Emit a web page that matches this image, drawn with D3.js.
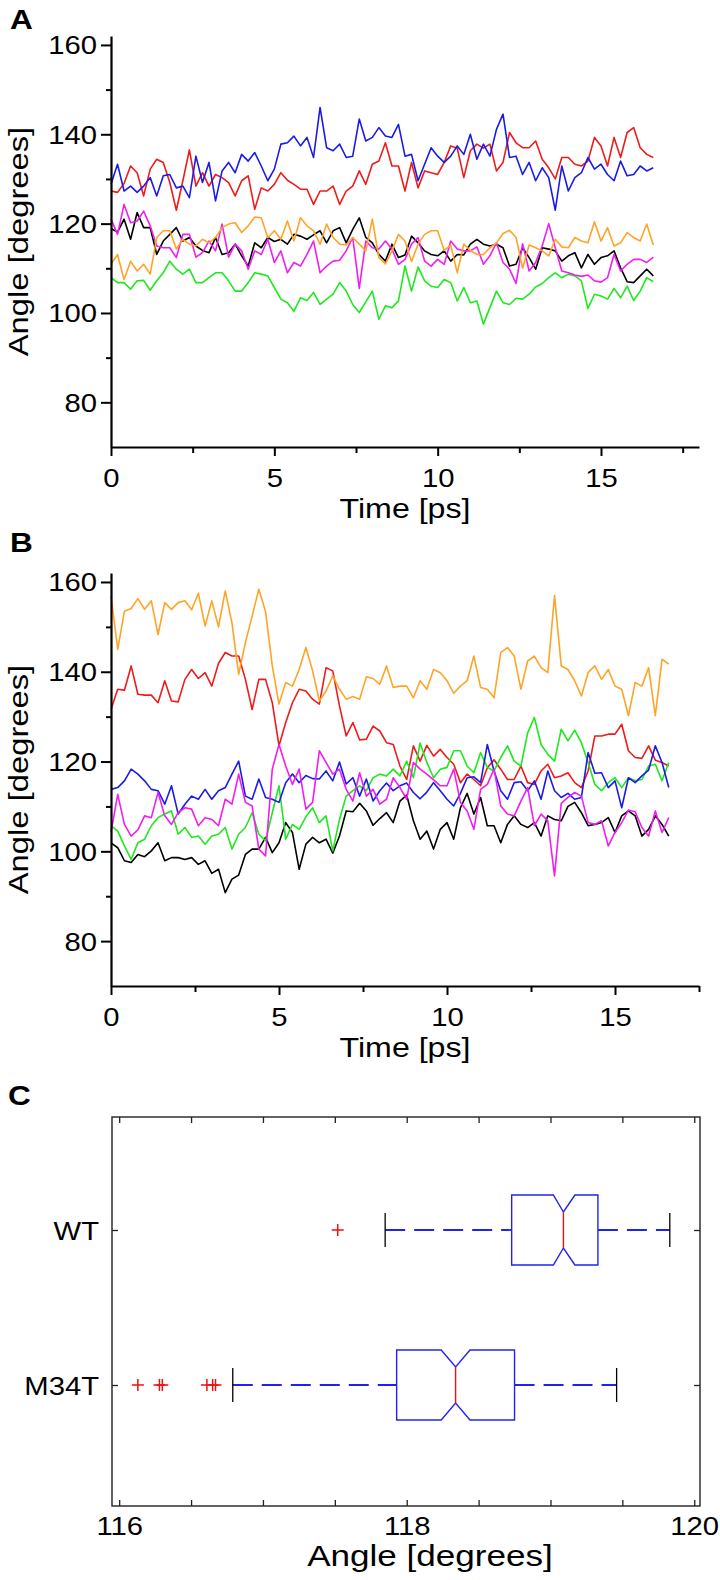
<!DOCTYPE html>
<html><head><meta charset="utf-8">
<script src="https://cdn.jsdelivr.net/npm/d3@7"></script>
<style>
body{margin:0;background:#fff}
svg{display:block}
text{font-family:"Liberation Sans",Arial,Helvetica,sans-serif;fill:#000}
</style>
</head><body>
<svg id="chart" width="720" height="1580"></svg>
<script>
// ---------------- DATA ----------------
const times = [0,0.2,0.4,0.6,0.8,1,1.2,1.4,1.6,1.8,2,2.2,2.4,2.6,2.8,3,3.2,3.4,3.6,3.8,4,4.2,4.4,4.6,4.8,5,5.2,5.4,5.6,5.8,6,6.2,6.4,6.6,6.8,7,7.2,7.4,7.6,7.8,8,8.2,8.4,8.6,8.8,9,9.2,9.4,9.6,9.8,10,10.2,10.4,10.6,10.8,11,11.2,11.4,11.6,11.8,12,12.2,12.4,12.6,12.8,13,13.2,13.4,13.6,13.8,14,14.2,14.4,14.6,14.8,15,15.2,15.4,15.6,15.8,16,16.2,16.4,16.6];

// Panel A series
const aBlack = [118.9,118.1,121,116.5,122.5,119.1,119.1,113.1,116.1,117.6,119.1,116.1,116.9,115,114,113.5,116.9,113.1,113.5,115.4,112.8,110.5,115.7,114.6,116.9,116,116.5,115.4,117.6,117.2,116.5,117.5,118.4,115.7,118.4,119.1,115.7,118.7,121.3,116.9,115.7,113.1,111.6,115.4,112.4,113,117.2,
115.7,113.9,113.1,112.8,113.9,111.6,113.1,113,115.4,116.5,115.4,115,115.4,114.6,110.5,110.9,114.6,112.4,109.8,114.6,114.3,113.9,111.6,112.8,113.5,110.1,113.1,110.9,112.4,112.8,113.9,110.1,107,106.8,108.3,109.8,108.3];
const aRed = [127.3,127,129,132.9,131.4,126.2,132.2,134.4,133.7,129.2,123,129.6,136.5,128.4,131.4,128.4,131,130.3,129.2,126.2,129.6,130.7,123.2,128,127.3,128.8,131.4,129.7,128.8,127.7,127.7,124.3,127.3,127.3,128.4,124.3,127.3,128.4,131.8,128.8,133.3,134,138.1,132.9,132.9,127.3,133.7,
128,131.8,131.4,131,133.7,137.4,136.9,130.3,136.3,137.8,136.9,137.8,131.8,133.7,140.4,138.1,137,137,138.5,134.4,132.5,130,134.8,134.8,133.3,132.9,134,139.3,137.4,132.9,139.3,134.8,140.4,141.5,137,135.5,134.8];
const aGreen = [107.9,106.8,106.8,105.3,107.2,107.3,105.1,107.2,109,111.6,109.8,108.7,109.8,106.8,106.8,107.9,109,109,107.2,104.9,104.9,106.8,109,108.7,108.3,105.7,103.1,102.3,100.4,103.4,102.8,104.6,101.9,103.1,104.2,106.8,104.9,101.9,100.1,102.5,104.9,98.6,101.6,101.2,102.7,110.5,104.9,
110.3,107.2,106,105.7,107.5,106.8,102.7,105.7,102.3,102.7,97.5,101.2,104.9,102.3,101.9,103.3,103.1,104.2,105.8,106.6,107.9,109,107.9,108.7,108.3,107.2,101,104.2,103.8,103.1,105.5,103.4,106,102.8,104.9,107.9,107];
const aBlue = [128.8,133.3,127.3,128.4,127,128.4,130.3,126.2,130.7,131,128,128.4,125.8,135.1,129.2,133.7,125.1,131.8,133.7,131.4,135.5,134,135.9,132.9,129.6,132.2,137.8,138.1,139.6,137.4,139.3,134.8,146,137,136.3,137.8,134.8,135.1,143.4,138.5,139.3,141.5,139.6,139.3,142.2,135.1,135.5,
129.6,133.3,137,135.1,133.7,135.1,137.4,135.5,140,134.4,137.8,135.1,141.1,144.5,134.8,135.1,131,133.7,129.6,132.5,130.3,123,132.9,127.3,130.3,131.4,134.8,132.2,133.3,131,129.6,134,130.7,131,132.9,131.8,132.5];
const aMagenta = [121,117.6,124.3,120.2,120.6,122.8,119.5,115,114.6,114.6,112.4,117.6,117.6,112.5,113.5,116.1,113.9,119.9,112.5,115.4,113.9,109.8,113.9,113.1,116.5,111.3,113.9,109,111.3,110.5,113.1,116.1,109,110.5,111.6,111.8,113.9,116.9,105.5,116.1,114.6,114.3,116.1,114.3,110.9,112,115.4,
116.9,111.6,110.5,112,110.9,116.1,114.3,113.9,113.9,114.8,110.9,112.8,115.7,111.3,109.8,106.6,115.5,109.4,111.3,115,120,114.6,109.4,109,108.5,108.2,108.5,107.2,106.9,107.9,113.1,109.4,110.9,112,112,111.3,112.5];
const aOrange = [110.9,113.1,107.5,111.6,109.4,110.9,108.7,116.9,118.4,118.4,114.3,116.5,115.4,115,116.5,115.7,116.9,119.1,119.9,120.2,118,119.5,121.5,121.3,116.9,118.4,116.5,120.6,116.1,121.3,119.5,118.4,115.4,119.9,116.9,115.4,115.2,116.9,115.4,113.9,121,112.4,111,113.9,117.6,116.1,111.5,
115.4,117.6,118.4,118.4,114,115.2,109,115.4,114,113.1,113.1,114.6,115.7,117.8,118.5,116.9,110,115.2,114.6,113.9,112.8,116.5,114.8,114.6,116.9,116.1,115.7,120.4,116.1,119.1,115,115.7,118,116.9,116.1,119.9,115.2];

// Panel B series
const bBlack = [101.9,100.8,97.9,97.5,99.3,98.8,100.1,101.9,97.9,98.6,98.6,98.2,98.6,97.1,97.9,95.1,96,90.8,93.8,94.7,99.3,100.5,100.5,103.1,99.7,101.9,106.4,104.2,96,101.6,103.1,101.9,102.7,99.6,103.4,109,108.8,110.7,109,105.8,107.3,108.6,106.4,111.2,112.5,106.8,
102.7,104.5,100.5,104.9,106.4,102.7,109.7,112.9,108.3,112,105.7,105.7,101.9,106,107.9,106,105.3,106.4,103.4,107.9,107.1,106.8,110,110.9,108.6,105.7,106,106.4,107.5,104.2,107.9,109,107.9,103.4,104.9,107.9,106,103.4];
const bRed = [131.6,136.1,135.9,141.3,135,134.8,134.8,133.1,138,133.5,133.3,138.3,140.5,138.5,139.8,136.8,141.9,144.3,143.5,143.5,138.3,131.6,138.3,138.3,133.1,123.5,128.7,133.1,136.1,135.7,133.9,132.8,140.9,140.2,132.4,125.7,128.7,124.8,125,127.9,126.8,124.2,123.8,119,116,123.5,
120.1,123.6,121.2,122.7,120.9,119.4,115.3,117.2,116,114.6,118.6,120.4,118.3,116,116,119,115.3,114.9,117.9,119.4,116.4,116.8,117.5,115.3,114.2,117.9,125.7,125.7,126.1,126.1,128.3,122.4,120.9,120.7,123.5,120.3,119.8,119];
const bGreen = [105.7,104.5,101.2,98.2,101.9,102.7,105.7,107.5,108.3,109,103.8,105.3,103.1,103.4,101.6,103.4,103.8,105.3,100.5,103.8,105.3,108.6,103.8,102.3,108.6,114.6,102.7,106,104.9,107.7,109.7,106.4,107.9,100.1,107.1,112.3,113.5,114.6,113.5,116.4,117.2,116.8,118.3,116.8,120.1,116.4,
124.1,119.8,116.4,118.3,118.7,122.4,122.4,119,117.5,122,118.7,117.9,120.9,123.5,120.1,119,126.4,129.8,123.8,121.6,120.1,127.2,124.6,127,124.2,119.8,114.9,113.5,115.3,116.4,114.2,116.4,115.7,116,119,119.4,115.7,119.8];
const bBlue = [113.8,114.2,115.7,118.3,117.2,115.7,113.8,113.5,110.5,114.6,108.3,110.5,112.3,111.6,113.8,111.6,113.5,114.2,117.2,120.1,112.3,111.6,116.1,112,111.6,110.9,115.3,117.2,115.3,116.9,116.2,116.1,117.9,115.7,119.9,115,116.4,112.3,116.1,111.2,113.5,115.2,113.5,114.6,115.2,113.1,
111.7,113.2,115.3,113.5,111.6,110.1,112.9,116.4,116.6,115.3,123.8,117.9,113.5,111.6,115.3,115.5,113.5,115.7,111.6,117.9,113.5,112,112.9,111.6,112,122,117.4,117.5,114.2,115.7,109.7,116.4,115.3,116.8,118.1,123.5,119.8,114.2];
const bMagenta = [104.2,112.7,106,103.4,104.8,107.9,107.5,113.1,107.9,106,108.6,109.7,109.4,105.7,107.5,107.1,105.7,111.6,110.5,117.2,110.9,110.1,100.5,99,118.3,123.8,119,114.9,118.3,109.4,110.9,122.4,119.8,117.2,118.3,113.8,111.2,117.5,112.3,113.8,110.5,111.6,116.4,114.2,111.6,119.8,
118.3,117.2,115.9,114.6,114.6,118.3,110.9,109,104.9,113.8,114.9,118.3,110.1,108.3,107.9,111.2,114.2,105.7,108.3,106.8,94.5,110.7,112,113.1,112.3,106.4,106,106.8,101.2,104.2,106.4,109.2,108.8,105.3,103.4,109,104.2,107.5];
const bOrange = [156.9,145,153.5,154.1,156.3,153.9,155.8,148.3,155.4,153.9,155.4,155.8,153.8,157.5,150.2,155.8,150,158,150.9,139.4,146.5,152.4,158.4,153.4,141.3,132.8,137.6,136.8,140.5,145.4,140.2,133.5,135.7,139.1,136.1,133.9,134.5,133.9,138.9,138.5,137.2,141.3,136.5,136.8,136.8,134.2,
138,136.1,140.5,139.8,138,135.2,136.8,138,143.5,136.5,136.1,134.2,144.3,145.4,143.5,136.1,142.4,143.5,140.9,139.8,157,141.3,140.5,138,134.6,139.8,141.3,138.3,140.5,136.8,136.1,130.2,137.6,136.8,140.9,130.2,142.8,141.7];

const seriesNames = ["black","red","green","blue","magenta","orange"];
const seriesColors = ["#000000","#ee1b1b","#1ee81e","#1b1be8","#f01ef0","#ffa426"];
const panelAData = [aBlack,aRed,aGreen,aBlue,aMagenta,aOrange];
const panelBData = [bBlack,bRed,bGreen,bBlue,bMagenta,bOrange];

const yMajorTicks = [80,100,120,140,160];
const yMinorTicks = [90,110,130,150];
const xMajorTicks = [0,5,10,15];
const xMinorTicks = [2.5,7.5,12.5,17.5];

// Panel C (box plot)
const boxCategories = ["WT","M34T"];
const boxWhiskerLow = [117.85,116.79];
const boxQ1 = [118.73,117.93];
const boxNotchLow = [119.02,118.24];
const boxMedian = [119.09,118.34];
const boxNotchHigh = [119.17,118.44];
const boxQ3 = [119.33,118.75];
const boxWhiskerHigh = [119.83,119.46];
const outliersWT = [117.52];
const outliersM34T = [116.13,116.28,116.30,116.61,116.65,116.67];
const cTickValues = [116,116.5,117,117.5,118,118.5,119,119.5,120];
const cTickLabels = [116,118,120];

// ---------------- DRAW ----------------
const SX = 1.17; // horizontal glyph stretch of the source figure
const svg = d3.select("#chart");

function stretchText(sel, x, y, anchor, rotate) {
  sel.attr("text-anchor", anchor)
     .attr("transform", `translate(${x},${y})` + (rotate ? ` rotate(${rotate})` : "") + ` scale(${SX},1)`);
  return sel;
}

function linePanel(cfg) {
  const g = svg.append("g");
  const x = d3.scaleLinear().domain(cfg.xDomain).range([111, 699]);
  const y = d3.scaleLinear().domain([70, 162]).range([cfg.bottom, cfg.top]);

  // lines
  const line = d3.line().x(d => x(d[0])).y(d => y(d[1]));
  cfg.data.forEach((vals, i) => {
    const pts = times.map((t, k) => [t, vals[k]]).filter(p => p[1] !== undefined);
    g.append("path").datum(pts)
      .attr("fill", "none").attr("stroke", seriesColors[i])
      .attr("stroke-width", 1.6).attr("stroke-linejoin", "round")
      .attr("d", line);
  });

  // y axis
  const yAx = g.append("g").attr("transform", "translate(111,0)")
    .call(d3.axisLeft(y).tickValues(yMajorTicks).tickSize(10).tickSizeOuter(0).tickFormat(d3.format("d")));
  g.append("g").attr("transform", "translate(111,0)")
    .call(d3.axisLeft(y).tickValues(yMinorTicks).tickSize(5).tickSizeOuter(0).tickFormat(""))
    .select(".domain").remove();
  // x axis
  const xAx = g.append("g").attr("transform", `translate(0,${cfg.bottom})`)
    .call(d3.axisBottom(x).tickValues(xMajorTicks).tickSize(9).tickSizeOuter(0).tickFormat(d3.format("d")));
  g.append("g").attr("transform", `translate(0,${cfg.bottom})`)
    .call(d3.axisBottom(x).tickValues(xMinorTicks).tickSize(6).tickSizeOuter(0).tickFormat(""))
    .select(".domain").remove();

  g.selectAll(".domain").attr("stroke", "#000").attr("stroke-width", 2.2);
  g.selectAll(".tick line").attr("stroke", "#000").attr("stroke-width", 2);
  yAx.selectAll(".tick text").attr("font-size", 25).attr("font-family", null)
    .attr("x", -14 / SX).attr("dy", "0.36em").attr("transform", `scale(${SX},1)`);
  xAx.selectAll(".tick text").attr("font-size", 25).attr("font-family", null)
    .attr("y", 40).attr("dy", 0).attr("transform", `scale(${SX},1)`);

  // titles
  stretchText(g.append("text").text("Time [ps]").attr("font-size", 27.5), 405, cfg.bottom + 71, "middle");
  stretchText(g.append("text").text("Angle [degrees]").attr("font-size", 28), 28, (cfg.top + cfg.bottom) / 2, "middle", -90);
  stretchText(g.append("text").text(cfg.letter).attr("font-size", 27).attr("font-weight", "bold"), 10, cfg.letterY, "start");
}

linePanel({data: panelAData, xDomain: [0, 18], top: 36, bottom: 447, letter: "A", letterY: 29});
linePanel({data: panelBData, xDomain: [0, 17.5], top: 573, bottom: 986, letter: "B", letterY: 552});

// Panel C
(function () {
  const g = svg.append("g");
  const L = 112, R = 700, T = 1117, B = 1506;
  const x = d3.scaleLinear().domain([115.95, 120.04]).range([L, R]);
  const y = d3.scalePoint().domain(boxCategories).range([1230, 1385]);

  g.append("rect").attr("x", L).attr("y", T).attr("width", R - L).attr("height", B - T)
    .attr("fill", "none").attr("stroke", "#222").attr("stroke-width", 1.4);

  const bottomAx = g.append("g").attr("transform", `translate(0,${B})`)
    .call(d3.axisBottom(x).tickValues(cTickValues).tickSize(-6).tickSizeOuter(0)
      .tickFormat(d => cTickLabels.includes(d) ? d3.format("d")(d) : ""));
  g.append("g").attr("transform", `translate(0,${T})`)
    .call(d3.axisTop(x).tickValues(cTickValues).tickSize(-6).tickSizeOuter(0).tickFormat(""));
  const leftAx = g.append("g").attr("transform", `translate(${L},0)`)
    .call(d3.axisLeft(y).tickSize(-6).tickSizeOuter(0));
  g.append("g").attr("transform", `translate(${R},0)`)
    .call(d3.axisRight(y).tickSize(-6).tickSizeOuter(0).tickFormat(""));
  g.selectAll(".domain").remove();
  g.selectAll(".tick line").attr("stroke", "#222").attr("stroke-width", 1.3);
  bottomAx.selectAll(".tick text").attr("font-size", 25).attr("font-family", null)
    .attr("y", 29).attr("dy", 0).attr("transform", `scale(${SX},1)`);
  leftAx.selectAll(".tick text").attr("font-size", 25).attr("font-family", null)
    .attr("x", -13 / SX).attr("dy", "0.36em").attr("transform", `scale(${SX},1)`);

  const hh = 35, inset = 17, cap = 17;
  boxCategories.forEach((c, i) => {
    const yc = y(c), top = yc - hh, bot = yc + hh;
    // whiskers
    g.append("line").attr("x1", x(boxWhiskerLow[i])).attr("x2", x(boxQ1[i])).attr("y1", yc).attr("y2", yc)
      .attr("stroke", "#2222ee").attr("stroke-width", 1.8).attr("stroke-dasharray", "20,9");
    g.append("line").attr("x1", x(boxQ3[i])).attr("x2", x(boxWhiskerHigh[i])).attr("y1", yc).attr("y2", yc)
      .attr("stroke", "#2222ee").attr("stroke-width", 1.8).attr("stroke-dasharray", "20,9");
    [boxWhiskerLow[i], boxWhiskerHigh[i]].forEach(v => {
      g.append("line").attr("x1", x(v)).attr("x2", x(v)).attr("y1", yc - cap).attr("y2", yc + cap)
        .attr("stroke", "#000").attr("stroke-width", 1.3);
    });
    // notched box
    const pts = [
      [x(boxQ1[i]), top], [x(boxNotchLow[i]), top], [x(boxMedian[i]), top + inset], [x(boxNotchHigh[i]), top],
      [x(boxQ3[i]), top], [x(boxQ3[i]), bot], [x(boxNotchHigh[i]), bot], [x(boxMedian[i]), bot - inset],
      [x(boxNotchLow[i]), bot], [x(boxQ1[i]), bot]
    ];
    g.append("path").attr("d", "M" + pts.map(p => p.join(",")).join("L") + "Z")
      .attr("fill", "#fff").attr("stroke", "#2222ee").attr("stroke-width", 1.4);
    g.append("line").attr("x1", x(boxMedian[i])).attr("x2", x(boxMedian[i]))
      .attr("y1", top + inset).attr("y2", bot - inset).attr("stroke", "#ee1111").attr("stroke-width", 1.4);
    // outliers
    const outs = i === 0 ? outliersWT : outliersM34T;
    outs.forEach(v => {
      g.append("path").attr("d", `M${x(v) - 6},${yc}H${x(v) + 6}M${x(v)},${yc - 6}V${yc + 6}`)
        .attr("stroke", "#ee1111").attr("stroke-width", 1.5);
    });
  });

  stretchText(g.append("text").text("Angle [degrees]").attr("font-size", 30), 430, 1566, "middle");
  stretchText(g.append("text").text("C").attr("font-size", 27).attr("font-weight", "bold"), 8, 1105, "start");
})();
</script>
</body></html>
